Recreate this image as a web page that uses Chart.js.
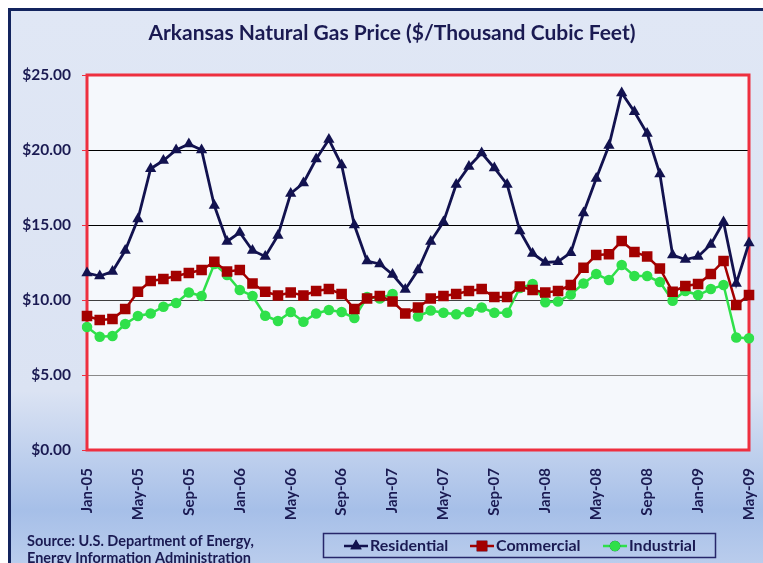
<!DOCTYPE html>
<html>
<head>
<meta charset="utf-8">
<script src="https://cdn.jsdelivr.net/npm/chart.js@4.4.1/dist/chart.umd.min.js"></script>
<style>
  html, body { margin: 0; padding: 0; background: #fff; }
  #wrap { position: relative; width: 763px; height: 563px; overflow: hidden; }
  #frame {
    position: absolute; left: 8px; top: 8px; width: 800px; height: 600px;
    border: 3px solid #13245e; box-sizing: border-box;
    background: linear-gradient(to bottom, #e0e7f5 0%, #dbe3f3 64%, #a6bfe8 84%, #c9d7f0 100%);
  }
  #c { position: absolute; left: 0; top: 0; }
</style>
</head>
<body>
<div id="wrap">
  <div id="frame"></div>
  <canvas id="c" width="763" height="563"></canvas>
</div>
<script>
// Precio del gas natural en Arkansas, enero 2005 - mayo 2009 ($/mil pies cúbicos)
var meses = [
  'Jan-05','Feb-05','Mar-05','Apr-05','May-05','Jun-05','Jul-05','Aug-05','Sep-05','Oct-05','Nov-05','Dec-05',
  'Jan-06','Feb-06','Mar-06','Apr-06','May-06','Jun-06','Jul-06','Aug-06','Sep-06','Oct-06','Nov-06','Dec-06',
  'Jan-07','Feb-07','Mar-07','Apr-07','May-07','Jun-07','Jul-07','Aug-07','Sep-07','Oct-07','Nov-07','Dec-07',
  'Jan-08','Feb-08','Mar-08','Apr-08','May-08','Jun-08','Jul-08','Aug-08','Sep-08','Oct-08','Nov-08','Dec-08',
  'Jan-09','Feb-09','Mar-09','Apr-09','May-09'
];

var residencial = [11.8, 11.6, 11.9, 13.3, 15.4, 18.75, 19.3, 20.0, 20.4, 20.0, 16.3, 13.9,
  14.5, 13.3, 12.9, 14.3, 17.1, 17.8, 19.4, 20.7, 19.0, 15.0, 12.6, 12.4,
  11.7, 10.7, 12.0, 13.9, 15.2, 17.7, 18.9, 19.8, 18.8, 17.7, 14.6, 13.1,
  12.5, 12.55, 13.15, 15.8, 18.1, 20.3, 23.8, 22.55, 21.1, 18.4, 13.0, 12.7,
  12.9, 13.7, 15.2, 11.1, 13.8];

var comercial = [8.93, 8.67, 8.73, 9.4, 10.55, 11.27, 11.4, 11.6, 11.8, 12.0, 12.55, 11.9,
  12.0, 11.1, 10.55, 10.3, 10.5, 10.3, 10.6, 10.73, 10.4, 9.4, 10.1, 10.27,
  9.9, 9.1, 9.5, 10.1, 10.27, 10.4, 10.6, 10.73, 10.2, 10.2, 10.9, 10.67,
  10.5, 10.6, 11.0, 12.15, 13.0, 13.05, 13.93, 13.2, 12.9, 12.1, 10.55, 10.93,
  11.07, 11.73, 12.6, 9.67, 10.33];

var industrial = [8.2, 7.55, 7.6, 8.4, 8.93, 9.1, 9.55, 9.8, 10.5, 10.27, 12.4, 11.67,
  10.67, 10.27, 8.95, 8.6, 9.2, 8.55, 9.1, 9.33, 9.2, 8.8, 10.2, 10.1,
  10.4, null, 8.9, 9.3, 9.15, 9.05, 9.2, 9.5, 9.15, 9.15, 10.8, 11.07,
  9.85, 9.9, 10.37, 11.1, 11.73, 11.33, 12.33, 11.6, 11.6, 11.2, 9.95, 10.6,
  10.33, 10.73, 11.0, 7.5, 7.45];

var titulo = 'Arkansas Natural Gas Price ($/Thousand Cubic Feet)';
var fuente = ['Source: U.S. Department of Energy,', 'Energy Information Administration'];

var colorTexto = '#1a1a52';
var fuenteBase = 'Lato, "Open Sans", sans-serif';

// fondo del área de trazado y borde rojo
var fondoPlot = {
  id: 'fondoPlot',
  beforeDraw: function (chart) {
    var a = chart.chartArea, ctx = chart.ctx;
    ctx.save();
    ctx.fillStyle = '#f5f8fc';
    ctx.fillRect(a.left, a.top, a.right - a.left, a.bottom - a.top);
    ctx.restore();
  },
  beforeDatasetsDraw: function (chart) {
    var a = chart.chartArea, ctx = chart.ctx;
    ctx.save();
    ctx.strokeStyle = '#ee2f3f';
    ctx.lineWidth = 3;
    ctx.strokeRect(a.left, a.top, a.right - a.left, a.bottom - a.top);
    ctx.restore();
  }
};

// título, fuente y leyenda con recuadro
var textos = {
  id: 'textos',
  afterDraw: function (chart) {
    var ctx = chart.ctx;
    ctx.save();
    ctx.fillStyle = colorTexto;
    ctx.textBaseline = 'middle';

    ctx.font = 'bold 21px ' + fuenteBase;
    ctx.textAlign = 'center';
    ctx.fillText(titulo, 392, 33);

    ctx.font = 'bold 14.5px ' + fuenteBase;
    ctx.textAlign = 'left';
    ctx.fillText(fuente[0], 27, 541);
    ctx.fillText(fuente[1], 27, 558);

    ctx.strokeStyle = '#27276a';
    ctx.lineWidth = 1.5;
    ctx.strokeRect(323.5, 533.5, 392, 24);

    var items = [
      { x: 344, ds: chart.data.datasets[0] },
      { x: 470, ds: chart.data.datasets[1] },
      { x: 603, ds: chart.data.datasets[2] }
    ];
    var y = 546;
    ctx.font = 'bold 16px ' + fuenteBase;
    items.forEach(function (it) {
      ctx.strokeStyle = it.ds.borderColor;
      ctx.lineWidth = 2.5;
      ctx.beginPath();
      ctx.moveTo(it.x, y);
      ctx.lineTo(it.x + 24, y);
      ctx.stroke();
      Chart.helpers.drawPoint(ctx, {
        pointStyle: it.ds.pointStyle, radius: it.ds.pointRadius, borderWidth: 0
      }, it.x + 12, y);
      ctx.fillStyle = it.ds.pointBackgroundColor;
      ctx.fill();
      ctx.fillStyle = colorTexto;
      ctx.fillText(it.ds.label, it.x + 26, y);
    });
    ctx.restore();
  }
};

function colorRejilla(context) {
  var v = context.tick ? context.tick.value : 0;
  if (v === 0 || v === 25) return 'rgba(0,0,0,0)';
  if (v === 5) return '#8a8a8a';
  if (v === 10) return '#404040';
  return '#000000';
}

new Chart(document.getElementById('c').getContext('2d'), {
  type: 'line',
  data: {
    labels: meses,
    datasets: [{
      label: 'Residential',
      data: residencial,
      borderColor: '#12124f',
      backgroundColor: '#12124f',
      pointBackgroundColor: '#12124f',
      borderWidth: 2.8,
      pointStyle: 'triangle',
      pointRadius: 6.5,
      pointBorderWidth: 0,
      tension: 0
    }, {
      label: 'Commercial',
      data: comercial,
      borderColor: '#a30000',
      backgroundColor: '#a30000',
      pointBackgroundColor: '#a30000',
      borderWidth: 2.5,
      pointStyle: 'rect',
      pointRadius: 7.5,
      pointBorderWidth: 0,
      tension: 0
    }, {
      label: 'Industrial',
      data: industrial,
      borderColor: '#2fe04a',
      backgroundColor: '#2fe04a',
      pointBackgroundColor: '#2fe04a',
      borderWidth: 2.5,
      pointStyle: 'circle',
      pointRadius: 5.3,
      pointBorderWidth: 0,
      spanGaps: false,
      tension: 0
    }]
  },
  options: {
    responsive: false,
    animation: false,
    layout: { padding: { left: 10, right: 14, top: 75, bottom: 0 } },
    plugins: {
      legend: { display: false },
      title: { display: false },
      tooltip: { enabled: false }
    },
    scales: {
      x: {
        afterFit: function (scale) {
          scale.height = 113;
          scale.paddingLeft = 0;
          scale.paddingRight = 0;
        },
        grid: { display: false, drawTicks: false },
        border: { display: false },
        ticks: {
          autoSkip: false,
          maxRotation: 90,
          minRotation: 90,
          padding: 18,
          color: colorTexto,
          font: { family: fuenteBase, size: 15, weight: 'bold' },
          callback: function (val, i) { return i % 4 === 0 ? meses[i] : ''; }
        }
      },
      y: {
        min: 0,
        max: 25,
        afterFit: function (scale) { scale.width = 77; },
        grid: { color: colorRejilla, lineWidth: 1, tickColor: '#ee2f3f', tickLength: 5 },
        border: { display: false },
        ticks: {
          stepSize: 5,
          padding: 11,
          color: colorTexto,
          font: { family: fuenteBase, size: 15.5, weight: 'bold' },
          callback: function (v) { return '$' + v.toFixed(2); }
        }
      }
    }
  },
  plugins: [fondoPlot, textos]
});
</script>
</body>
</html>
